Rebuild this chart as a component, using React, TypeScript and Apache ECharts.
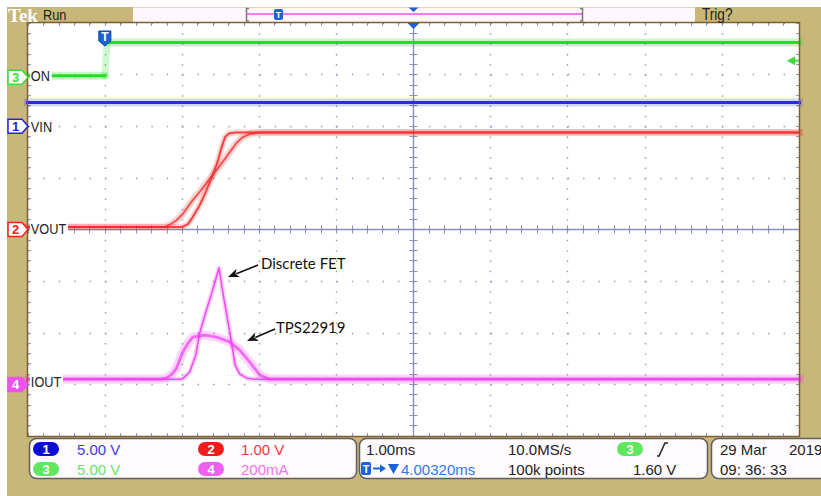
import React, { useEffect, useRef } from "react";
import * as echarts from "echarts";

// ---------- scope setup ----------
const TRIGGER_FROM_CENTER_MS = 4.0032; // trigger sits 4.0032 ms left of screen centre
const MS_PER_DIV = 1.0;

// channel scale (units / div) and ground offset (div from centre)
const CH3_SCALE = 5, CH3_OFFSET = 2.95; // ON, V
const CH1_SCALE = 5, CH1_OFFSET = 2.0; // VIN, V
const CH2_SCALE = 1, CH2_OFFSET = 0; // VOUT, V
const CH4_SCALE = 200, CH4_OFFSET = -3; // IOUT, mA
const TRIG_LEVEL_V = 1.6;

// ---------- waveforms (time in ms relative to trigger) ----------
const onTimes = [-1.1, 0.0, 0.03, 9.1];
const onVolts = [0.15, 0.15, 3.35, 3.35];

const vinTimes = [-1.1, 9.1];
const vinVolts = [2.3, 2.3];

const voutFetTimes = [-1.1, 1.01, 1.08, 1.14, 1.23, 1.31, 1.4, 1.47, 1.52, 1.56, 1.61, 1.69, 9.1];
const voutFetVolts = [0.05, 0.05, 0.11, 0.24, 0.47, 0.73, 1.06, 1.35, 1.62, 1.79, 1.86, 1.88, 1.88];

const voutTpsTimes = [-1.1, 0.78, 0.86, 0.93, 1.01, 1.13, 1.23, 1.4, 1.52, 1.62, 1.71, 1.79, 1.88, 2.01, 9.1];
const voutTpsVolts = [0.05, 0.05, 0.11, 0.18, 0.3, 0.55, 0.73, 1.06, 1.29, 1.5, 1.68, 1.79, 1.85, 1.88, 1.88];

const ioutFetTimes = [-1.1, 0.97, 1.01, 1.1, 1.18, 1.23, 1.31, 1.39, 1.48, 1.54, 1.62, 1.69, 1.75, 1.84, 1.95, 9.1];
const ioutFetMilliamps = [20, 20, 22, 48, 114, 199, 280, 357, 451, 339, 203, 75, 40, 24, 20, 20];

const ioutTpsTimes = [-1.1, 0.71, 0.8, 0.87, 0.93, 1.01, 1.08, 1.14, 1.3, 1.45, 1.62, 1.75, 1.88, 2.01, 2.14, 9.1];
const ioutTpsMilliamps = [20, 20, 24, 40, 63, 125, 160, 183, 191, 183, 164, 133, 86, 36, 20, 20];

// ---------- texts ----------
const channelLabels = ["ON", "VIN", "VOUT", "IOUT"];
const scaleTexts = ["5.00 V", "5.00 V", "1.00 V", "200mA"];
const timebaseText = "1.00ms";
const delayText = "4.00320ms";
const sampleRateText = "10.0MS/s";
const recordText = "100k points";
const trigLevelText = "1.60 V";
const dateText = "29 Mar";
const yearText = "2019";
const clockText = "09: 36: 33";
const annotationTexts = ["Discrete FET", "TPS22919"];

// ---------- layout ----------
const GL = 28, GT = 23, GW = 771, GH = 413;
const DIV_H = GH / 8;
const py = (div: number) => GT + (4 - div) * DIV_H;

const KHAKI = "#C9B679";
const CL = "#8790b2";
const DOT = "#8f98b8";
const FONT = '"Liberation Sans", Arial, sans-serif';

const toPts = (ts: number[], vs: number[], scale: number, offset: number) =>
  ts.map((t, i) => [t / MS_PER_DIV - TRIGGER_FROM_CENTER_MS, vs[i] / scale + offset]);

const line = (data: number[][], color: string, width: number, opacity: number, z = 2) => ({
  type: "line",
  data,
  showSymbol: false,
  symbol: "none",
  silent: true,
  z,
  lineStyle: { color, width, opacity, cap: "round", join: "round" },
});

const txt = (x: number, y: number, text: string, fill: string, size = 15, extra: any = {}, sx = 1) => ({
  type: "text",
  x,
  y,
  z: 100,
  scaleX: sx,
  silent: true,
  style: {
    text,
    fill,
    font: `${size}px ${FONT}`,
    textAlign: "left",
    align: "left",
    textVerticalAlign: "middle",
    verticalAlign: "middle",
    ...extra,
  },
});

const badge = (cx: number, cy: number, label: string, color: string) => ({
  type: "group",
  z: 100,
  children: [
    { type: "rect", z: 100, shape: { x: cx - 13, y: cy - 7, width: 26, height: 14, r: 7 }, style: { fill: color } },
    {
      type: "text",
      z: 101,
      x: cx,
      y: cy,
      style: {
        text: label, fill: "#fff", font: `bold 13px ${FONT}`,
        textAlign: "center", align: "center", textVerticalAlign: "middle", verticalAlign: "middle",
      },
    },
  ],
});

const groundMarker = (cy: number, label: string, color: string, filled: boolean) => ({
  type: "group",
  z: 100,
  children: [
    {
      type: "polygon",
      z: 100,
      shape: { points: [[8, cy - 7], [22, cy - 7], [28, cy], [22, cy + 7], [8, cy + 7]] },
      style: { fill: filled ? color : "#fff", stroke: color, lineWidth: 1.5 },
    },
    {
      type: "text",
      z: 101,
      x: 15.5,
      y: cy,
      style: {
        text: label, fill: filled ? "#fff" : color, font: `bold 13px ${FONT}`,
        textAlign: "center", align: "center", textVerticalAlign: "middle", verticalAlign: "middle",
      },
    },
  ],
});

const arrow = (x1: number, y1: number, x2: number, y2: number) => {
  const dx = x2 - x1, dy = y2 - y1;
  const len = Math.hypot(dx, dy);
  const ux = dx / len, uy = dy / len;
  const hl = 11, hw = 4.5;
  const bx = x2 - ux * hl, by = y2 - uy * hl;
  return [
    { type: "line", z: 100, shape: { x1, y1, x2: bx + ux * 2, y2: by + uy * 2 }, style: { stroke: "#111", lineWidth: 1.6 } },
    {
      type: "polygon",
      z: 100,
      shape: { points: [[x2, y2], [bx - uy * hw, by + ux * hw], [bx + ux * 3, by + uy * 3], [bx + uy * hw, by - ux * hw]] },
      style: { fill: "#111" },
    },
  ];
};

function buildOption() {
  const onPts = toPts(onTimes, onVolts, CH3_SCALE, CH3_OFFSET);
  const vinPts = toPts(vinTimes, vinVolts, CH1_SCALE, CH1_OFFSET);
  const voutFet = toPts(voutFetTimes, voutFetVolts, CH2_SCALE, CH2_OFFSET);
  const voutTps = toPts(voutTpsTimes, voutTpsVolts, CH2_SCALE, CH2_OFFSET);
  const ioutFet = toPts(ioutFetTimes, ioutFetMilliamps, CH4_SCALE, CH4_OFFSET);
  const ioutTps = toPts(ioutTpsTimes, ioutTpsMilliamps, CH4_SCALE, CH4_OFFSET);

  const GREEN = "#1fe01f", BLUE = "#2a2ae6", RED = "#f02a2a", MAG = "#f03cf0";

  const series: any[] = [
    // halos
    line(vinPts, BLUE, 8, 0.2),
    line(onPts.slice(0, 2), GREEN, 8, 0.25),
    line(onPts.slice(2), GREEN, 8, 0.25),
    line(onPts.slice(1, 3), GREEN, 7, 0.22),
    line(voutTps, RED, 7, 0.2),
    line(voutFet, RED, 6, 0.2),
    line(ioutTps, MAG, 9, 0.22),
    line(ioutFet, MAG, 5, 0.22),
    // cores
    line(vinPts, BLUE, 3, 1, 3),
    line(onPts.slice(0, 2), GREEN, 3, 1, 3),
    line(onPts.slice(2), GREEN, 3, 1, 3),
    line(voutTps, RED, 2, 0.75, 3),
    line(voutFet, RED, 2, 0.85, 3),
    line(ioutTps, MAG, 2.8, 0.7, 3),
    line(ioutFet, MAG, 1.6, 0.9, 3),
  ];

  const base = { type: "value", min: -5, max: 5, interval: 1, gridIndex: 0, z: 1, axisLabel: { show: false }, splitLine: { show: false } };
  const baseY = { type: "value", min: -4, max: 4, interval: 1, gridIndex: 0, z: 1, axisLabel: { show: false }, splitLine: { show: false } };
  const tickStyle = (len: number, inside: boolean, color: string) => ({
    axisTick: { show: true, inside, length: len, lineStyle: { color, width: 1 } },
    minorTick: { show: true, splitNumber: 5, length: len, lineStyle: { color, width: 1 } },
  });

  const xAxis = [
    {
      ...base, position: "bottom",
      axisLine: { show: true, onZero: true, onZeroAxisIndex: 0, lineStyle: { color: CL, width: 1.3 } },
      ...tickStyle(4, false, CL),
      splitLine: { show: true, lineStyle: { color: DOT, width: 1.4, type: [1.4, GH / 40 - 1.4] } },
    },
    { ...base, position: "bottom", axisLine: { show: false, onZero: true, onZeroAxisIndex: 0 }, ...tickStyle(4, true, CL) },
    { ...base, position: "bottom", axisLine: { show: false, onZero: false }, ...tickStyle(3, true, DOT) },
    { ...base, position: "top", axisLine: { show: false, onZero: false }, ...tickStyle(3, true, DOT) },
  ];
  const yAxis = [
    {
      ...baseY, position: "left",
      axisLine: { show: true, onZero: true, onZeroAxisIndex: 0, lineStyle: { color: CL, width: 1.3 } },
      ...tickStyle(4, false, CL),
      splitLine: { show: true, lineStyle: { color: DOT, width: 1.4, type: [1.4, GW / 50 - 1.4] } },
    },
    { ...baseY, position: "left", axisLine: { show: false, onZero: true, onZeroAxisIndex: 0 }, ...tickStyle(4, true, CL) },
    { ...baseY, position: "left", axisLine: { show: false, onZero: false }, ...tickStyle(3, true, DOT) },
    { ...baseY, position: "right", axisLine: { show: false, onZero: false }, ...tickStyle(3, true, DOT) },
  ];

  const trigX = GL + GW / 2 - TRIGGER_FROM_CENTER_MS / MS_PER_DIV * (GW / 10);
  const cx = GL + GW / 2;
  const trigY = py(TRIG_LEVEL_V / CH3_SCALE + CH3_OFFSET);

  const labelBg = { backgroundColor: "#fff", padding: [1, 2, 1, 1], font: `15px ${FONT}` };

  const graphic: any[] = [
    // white outer strips + graticule background and frame
    { type: "rect", z: -100, shape: { x: 0, y: 0, width: 821, height: 7 }, style: { fill: "#fff" } },
    { type: "rect", z: -100, shape: { x: 0, y: 0, width: 7, height: 496 }, style: { fill: "#fff" } },
    { type: "rect", z: -100, shape: { x: GL, y: GT, width: GW, height: GH }, style: { fill: "#fff" } },
    { type: "rect", z: 60, shape: { x: GL - 0.5, y: GT - 0.5, width: GW + 1, height: GH + 1 }, style: { fill: null, stroke: "#7d5f35", lineWidth: 1.5 } },
    // top bar
    { type: "text", z: 100, x: 8, y: 15.5, style: { text: "Tek", fill: "#fff", font: 'bold 19px "Liberation Serif", "DejaVu Serif", serif', textVerticalAlign: "middle", verticalAlign: "middle" } },
    txt(43, 15, "Run", "#222", 15, {}, 0.85),
    { type: "rect", z: 50, shape: { x: 133, y: 7.5, width: 562, height: 14.5 }, style: { fill: "#FEF7FC" } },
    { type: "line", z: 60, shape: { x1: 247, y1: 14, x2: 582, y2: 14 }, style: { stroke: "#f07cf0", lineWidth: 2 } },
    { type: "polyline", z: 60, shape: { points: [[249, 8.5], [246.5, 8.5], [246.5, 21], [249, 21]] }, style: { stroke: "#777", lineWidth: 1.5, fill: null } },
    { type: "polyline", z: 60, shape: { points: [[580, 8.5], [582.5, 8.5], [582.5, 21], [580, 21]] }, style: { stroke: "#777", lineWidth: 1.5, fill: null } },
    { type: "rect", z: 61, shape: { x: 274, y: 9, width: 9, height: 11, r: 2 }, style: { fill: "#1a62d8" } },
    { type: "text", z: 62, x: 278.5, y: 14.5, style: { text: "T", fill: "#fff", font: `bold 9px ${FONT}`, textAlign: "center", align: "center", textVerticalAlign: "middle", verticalAlign: "middle" } },
    { type: "polygon", z: 61, shape: { points: [[cx - 5, 7.5], [cx + 5, 7.5], [cx, 12]] }, style: { fill: "#1a62d8" } },
    txt(702, 15, "Trig?", "#222", 16, {}, 0.85),
    // trigger markers on graticule
    { type: "polygon", z: 100, shape: { points: [[cx - 6, GT], [cx + 6, GT], [cx, GT + 6]] }, style: { fill: "#1a62d8" } },
    {
      type: "polygon", z: 100,
      shape: { points: [[trigX - 6, 31], [trigX + 6, 31], [trigX + 6, 41], [trigX, 46], [trigX - 6, 41]] },
      style: { fill: "#1a62d8", stroke: "#0d3f9a", lineWidth: 1 },
    },
    { type: "text", z: 101, x: trigX, y: 37, style: { text: "T", fill: "#fff", font: `bold 12px ${FONT}`, textAlign: "center", align: "center", textVerticalAlign: "middle", verticalAlign: "middle" } },
    { type: "polygon", z: 100, shape: { points: [[787, trigY], [795, trigY - 4.5], [795, trigY + 4.5]] }, style: { fill: "#3ddc3d" } },
    { type: "line", z: 100, shape: { x1: 794, y1: trigY, x2: 799, y2: trigY }, style: { stroke: "#3ddc3d", lineWidth: 2 } },
    // ground markers
    groundMarker(py(CH3_OFFSET), "3", "#3ddc3d", false),
    groundMarker(py(CH1_OFFSET), "1", "#2424e0", false),
    groundMarker(py(CH2_OFFSET), "2", "#f02020", false),
    groundMarker(py(CH4_OFFSET), "4", "#f050f0", true),
    // channel labels
    txt(30, py(CH3_OFFSET) - 2, channelLabels[0], "#222", 15, labelBg, 0.85),
    txt(30, py(CH1_OFFSET), channelLabels[1], "#222", 15, labelBg, 0.85),
    txt(30, py(CH2_OFFSET) - 1, channelLabels[2], "#222", 15, labelBg, 0.85),
    txt(30, py(CH4_OFFSET) - 3, channelLabels[3], "#222", 15, labelBg, 0.85),
    // annotations
    txt(261, 263, annotationTexts[0], "#111", 14, { font: '15px Lato, "Open Sans", sans-serif' }),
    ...arrow(258, 265, 228, 277),
    txt(276, 327, annotationTexts[1], "#111", 14, { font: '15px Lato, "Open Sans", sans-serif' }),
    ...arrow(275, 329, 247, 341),
    // status boxes
    { type: "rect", z: 90, shape: { x: 29.5, y: 438.5, width: 327, height: 40, r: 7 }, style: { fill: "#FFFBFE", stroke: "#5f5f5f", lineWidth: 1.5 } },
    { type: "rect", z: 90, shape: { x: 359.5, y: 438.5, width: 348, height: 40, r: 7 }, style: { fill: "#FFFBFE", stroke: "#5f5f5f", lineWidth: 1.5 } },
    { type: "rect", z: 90, shape: { x: 711.5, y: 438.5, width: 130, height: 40, r: 7 }, style: { fill: "#FFFBFE", stroke: "#5f5f5f", lineWidth: 1.5 } },
    badge(46, 449, "1", "#0c0cd6"),
    txt(77, 449, scaleTexts[0], "#3c3ce0"),
    badge(46, 469, "3", "#5fe85f"),
    txt(77, 469, scaleTexts[1], "#66e866"),
    badge(211, 449, "2", "#f01c1c"),
    txt(241, 449, scaleTexts[2], "#f03a3a"),
    badge(211, 469, "4", "#f060f0"),
    txt(241, 469, scaleTexts[3], "#f070f0"),
    txt(366, 449, timebaseText, "#222"),
    { type: "rect", z: 100, shape: { x: 361, y: 462, width: 10, height: 13, r: 2 }, style: { fill: "#1a62d8" } },
    { type: "text", z: 101, x: 366, y: 468.5, style: { text: "T", fill: "#fff", font: `bold 11px ${FONT}`, textAlign: "center", align: "center", textVerticalAlign: "middle", verticalAlign: "middle" } },
    { type: "line", z: 100, shape: { x1: 373, y1: 468.5, x2: 382, y2: 468.5 }, style: { stroke: "#1a62d8", lineWidth: 2 } },
    { type: "polygon", z: 100, shape: { points: [[386, 468.5], [380, 464.5], [380, 472.5]] }, style: { fill: "#1a62d8" } },
    { type: "polygon", z: 100, shape: { points: [[388, 464], [399, 464], [393.5, 474]] }, style: { fill: "#1a62d8" } },
    txt(401, 469, delayText, "#2f78ee"),
    txt(508, 449, sampleRateText, "#222"),
    txt(508, 469, recordText, "#222"),
    badge(630, 449, "3", "#5fe85f"),
    { type: "polyline", z: 100, shape: { points: [[657, 456], [659, 456], [665, 443], [668, 443]] }, style: { stroke: "#222", lineWidth: 1.5, fill: null } },
    txt(633, 469, trigLevelText, "#222"),
    txt(720, 449, dateText, "#222"),
    txt(789, 449, yearText, "#222"),
    txt(720, 469, clockText, "#222"),
  ];

  return {
    animation: false,
    backgroundColor: KHAKI,
    grid: { left: GL, top: GT, width: GW, height: GH, show: false },
    xAxis,
    yAxis,
    series,
    graphic,
  };
}

export default function App() {
  const ref = useRef<HTMLDivElement>(null);
  useEffect(() => {
    if (!ref.current) return;
    const chart = echarts.init(ref.current, null, { renderer: "svg" });
    chart.setOption(buildOption() as any);
    return () => chart.dispose();
  }, []);
  return (
    <div
      ref={ref}
      style={{ position: "fixed", left: 0, top: 0, width: 821, height: 496, background: "#fff" }}
    />
  );
}
